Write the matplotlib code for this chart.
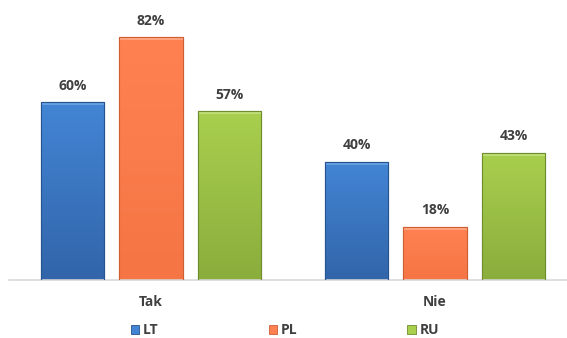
import numpy as np
import matplotlib.pyplot as plt
import matplotlib.patches as mpatches
from matplotlib.colors import LinearSegmentedColormap

plt.rcParams['font.family'] = ['Open Sans', 'DejaVu Sans']

categories = ['Tak', 'Nie']
series = ['LT', 'PL', 'RU']
values = {
  'LT': [60, 40],
  'PL': [82, 18],
  'RU': [57, 43],
}

# (top, bottom, edge, highlight) for each series
colors = {
  'LT': ('#4385d4', '#3265aa', '#26548e', '#6fa6e6'),
  'PL': ('#ff8152', '#f57544', '#cf5e33', '#ffae8c'),
  'RU': ('#a9cf4e', '#8aad3c', '#6f8d2e', '#c6e383'),
}
text_color = '#404040'

fig = plt.figure(figsize=(5.67, 3.38), dpi=100)
ax = fig.add_axes([9 / 567, 58 / 338, 558 / 567, 280 / 338])

x = np.arange(len(categories))
width = 0.222
offset = 0.276

for k, name in enumerate(series):
  top, bottom, edge, light = colors[name]
  cmap = LinearSegmentedColormap.from_list(name, [bottom, top])
  bars = ax.bar(x + (k - 1) * offset, values[name], width,
                color=top, edgecolor=edge, linewidth=0.8, zorder=2)
  for bar, v in zip(bars, values[name]):
    x0, w, h = bar.get_x(), bar.get_width(), bar.get_height()
    grad = np.linspace(0, 1, 64).reshape(-1, 1)
    im = ax.imshow(grad, cmap=cmap, origin='lower', aspect='auto',
                   extent=[x0, x0 + w, 0, h], zorder=2.5)
    im.set_clip_path(bar)
    # bevel: light strip along the top edge
    ax.add_patch(mpatches.Rectangle((x0, h - 1.0), w, 1.0, facecolor=light,
                                    edgecolor='none', alpha=0.8, zorder=2.8))
    ax.add_patch(mpatches.Rectangle((x0, 0), w, h, fill=False,
                                    edgecolor=edge, linewidth=0.8, zorder=3))
    ax.text(x0 + w / 2, h + 3.3, f'{v}%', ha='center', va='bottom',
            fontsize=10, fontweight='bold', color=text_color)

ax.set_xlim(-0.5, -0.5 + 558 / 284)
ax.set_ylim(0, 94.6)

for s in ['top', 'right', 'left']:
  ax.spines[s].set_visible(False)
ax.spines['bottom'].set_color('#d9d9d9')
ax.spines['bottom'].set_linewidth(1.2)
ax.set_yticks([])
ax.set_xticks(x)
ax.set_xticklabels(categories, fontsize=10, fontweight='bold', color=text_color)
ax.tick_params(axis='x', length=0, pad=11)

handles = [mpatches.Patch(facecolor=colors[n][0], edgecolor=colors[n][2],
                          linewidth=0.6, label=n) for n in series]
leg = fig.legend(handles=handles, loc='center', bbox_to_anchor=(285 / 567, 1 - 330 / 338),
                 ncol=3, frameon=False, handlelength=0.6, handleheight=0.6,
                 handletextpad=0.3, columnspacing=7.9, borderpad=0.2,
                 prop={'size': 10, 'weight': 'bold'})
for t in leg.get_texts():
  t.set_color(text_color)

plt.savefig('out.png', dpi=100)
